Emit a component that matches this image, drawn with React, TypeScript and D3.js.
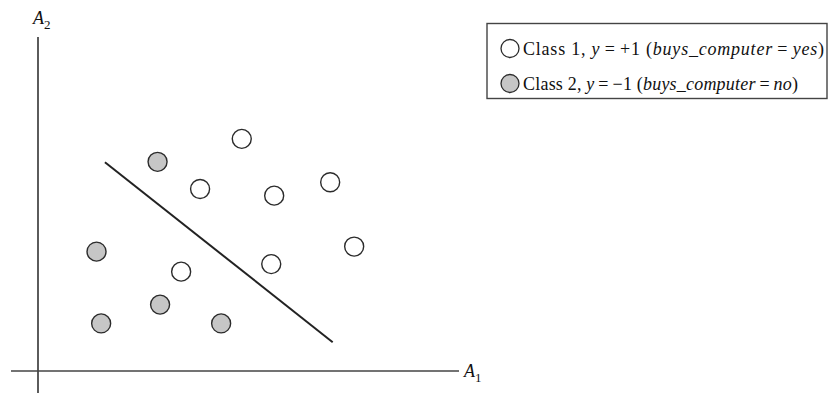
import React from "react";
import * as d3 from "d3";

const W = 828;
const H = 393;

// Data (A1, A2) in abstract units
const class1A1 = [4.84, 3.85, 5.61, 6.94, 7.51, 5.54, 3.40];
const class1A2 = [5.56, 4.36, 4.20, 4.52, 2.98, 2.56, 2.38];
const class2A1 = [2.84, 1.39, 2.90, 1.50, 4.35];
const class2A2 = [5.01, 2.86, 1.59, 1.14, 1.14];
const lineA1 = [1.59, 7.0];
const lineA2 = [5.0, 0.69];

const legendLabels = ["Class 1", "Class 2"];
const legendY = ["+1", "\u22121"];
const legendVal = ["yes", "no"];
const legendWidths = [301, 275];

const FONT = "'Liberation Serif', 'Times New Roman', serif";

export default function App() {
  const x = d3.scaleLinear().domain([0, 10]).range([38, 459]);
  const y = d3.scaleLinear().domain([0, 8]).range([371, 37]);
  const line = d3
    .line<number>()
    .x((_, i) => x(lineA1[i]))
    .y((_, i) => y(lineA2[i]));

  const stroke = "#2b2b2b";
  const gray = "#c6c6c6";

  return (
    <svg
      width={W}
      height={H}
      style={{ position: "absolute", left: 0, top: 0, background: "#fff" }}
      fontFamily={FONT}
    >
      {/* axes */}
      <line x1={38} y1={37} x2={38} y2={393} stroke="#333" strokeWidth={1.6} />
      <line x1={11} y1={371} x2={459} y2={371} stroke="#444" strokeWidth={1.6} />
      <text x={33} y={24} fontSize={18} fontStyle="italic" fill="#111">
        A<tspan fontStyle="normal" fontSize={13} dy={5}>2</tspan>
      </text>
      <text x={464} y={377} fontSize={18} fontStyle="italic" fill="#111">
        A<tspan fontStyle="normal" fontSize={13} dy={5}>1</tspan>
      </text>

      {/* separating line */}
      <path d={line(lineA1) || ""} fill="none" stroke="#222" strokeWidth={2} />

      {/* points */}
      {class1A1.map((v, i) => (
        <circle key={"a" + i} cx={x(v)} cy={y(class1A2[i])} r={9.5} fill="#fff" stroke={stroke} strokeWidth={1.4} />
      ))}
      {class2A1.map((v, i) => (
        <circle key={"b" + i} cx={x(v)} cy={y(class2A2[i])} r={9.5} fill={gray} stroke={stroke} strokeWidth={1.4} />
      ))}

      {/* legend */}
      <rect x={487} y={23.5} width={340} height={75} fill="#fff" stroke="#444" strokeWidth={1.4} />
      {legendLabels.map((lab, i) => {
        const cy = 48.5 + i * 35;
        return (
          <g key={lab}>
            <circle cx={510} cy={cy} r={9} fill={i === 0 ? "#fff" : gray} stroke={stroke} strokeWidth={1.3} />
            <text
              x={523}
              y={cy + 6.5}
              fontSize={18}
              fill="#111"
              textLength={legendWidths[i]}
              lengthAdjust="spacing"
            >
              {lab + ", "}
              <tspan fontStyle="italic">y</tspan>
              {"\u2009=\u2009" + legendY[i] + " ("}
              <tspan fontStyle="italic">buys_computer</tspan>
              {"\u2009=\u2009"}
              <tspan fontStyle="italic">{legendVal[i]}</tspan>
              {")"}
            </text>
          </g>
        );
      })}
    </svg>
  );
}
